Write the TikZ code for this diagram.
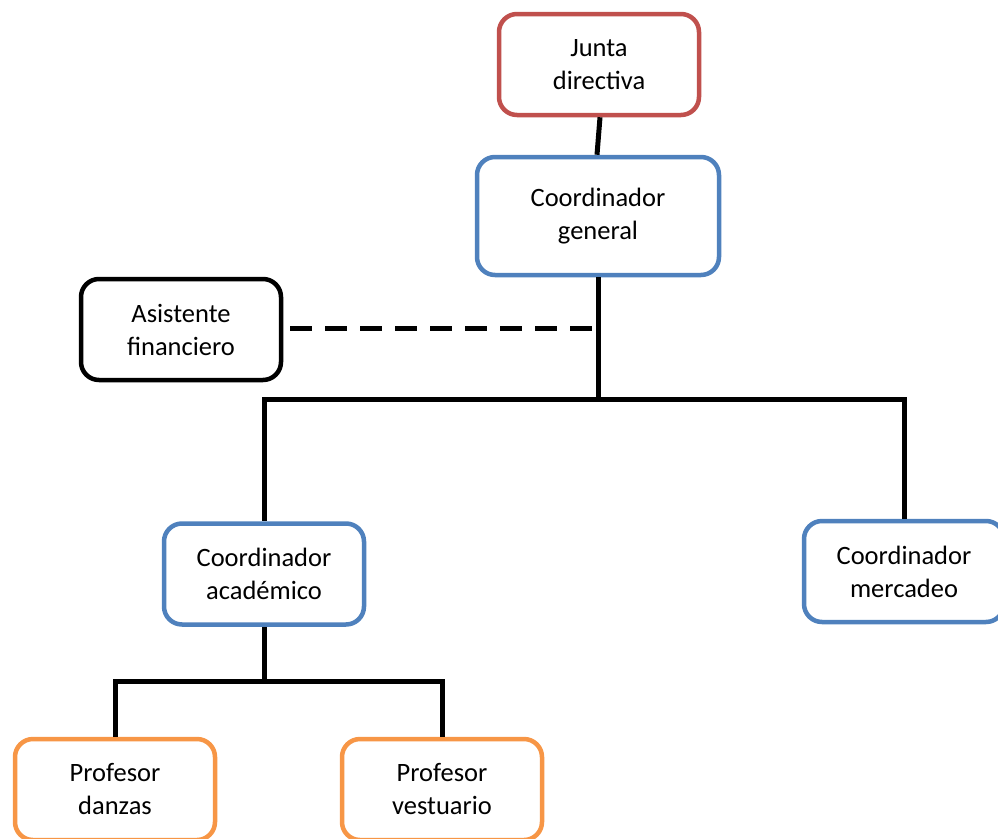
\documentclass[tikz,border=0pt]{standalone}
\usepackage{fontspec}
\setmainfont{Carlito}
\definecolor{boardred}{HTML}{C0504D}
\definecolor{coordblue}{HTML}{4F81BD}
\definecolor{teachorange}{HTML}{F79646}
\begin{document}
\begin{tikzpicture}[x=1pt,y=-1pt,
  unit/.style={draw, line width=4.5pt, rounded corners=18pt, fill=white,
    align=center, inner sep=0pt, font=\fontsize{26.5}{33}\selectfont},
  small/.style={unit, minimum width=200pt, minimum height=101pt},
  wide/.style={unit, minimum width=242pt, minimum height=118pt},
  link/.style={line width=5pt, line join=miter},
  staff/.style={link, dashed, dash pattern=on 22pt off 13pt}]
\useasboundingbox (0,0) rectangle (998,838);
\clip (0,0) rectangle (998,838);
% boxes
\node[small, draw=boardred]    (junta) at (599,64.5) {Junta\\directiva};
\node[wide,  draw=coordblue]   (gen)   at (598,216)  {Coordinador\\general};
\node[small, draw=black]       (asis)  at (181,329.5){Asistente\\financiero};
\node[small, draw=coordblue]   (acad)  at (264,574)  {Coordinador\\académico};
\node[small, draw=coordblue]   (merc)  at (904,571.5){Coordinador\\mercadeo};
\node[small, draw=teachorange] (danz)  at (115,789.5){Profesor\\danzas};
\node[small, draw=teachorange] (vest)  at (442,789.5){Profesor\\vestuario};
% junction points
\coordinate (hub)   at (598,399);
\coordinate (dash)  at (598,328);
\coordinate (hub2)  at (264,681);
% connectors
\draw[link] ([xshift=1pt]junta.south) -- ([xshift=-1pt]gen.north);
\draw[link] (gen.south) -- (hub);
\draw[link] (hub) -| (acad.north);
\draw[link] (hub) -| (merc.north);
\draw[staff, shorten <=7pt] (asis.east |- dash) -- (dash);
\draw[link] (acad.south) -- (hub2);
\draw[link] (hub2) -| (danz.north);
\draw[link] (hub2) -| (vest.north);
\end{tikzpicture}
\end{document}
